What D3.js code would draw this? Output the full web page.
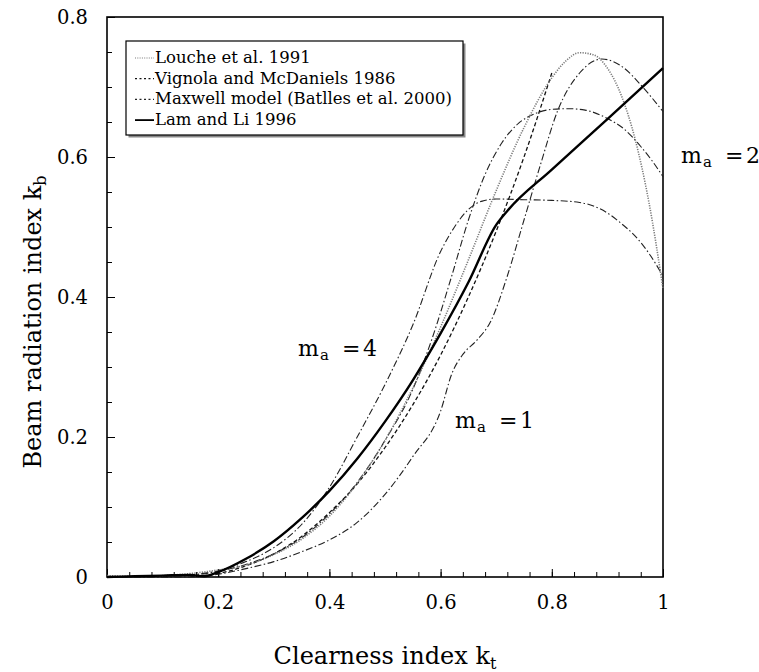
<!DOCTYPE html>
<html>
<head>
<meta charset="utf-8">
<script src="https://cdn.jsdelivr.net/npm/d3@7/dist/d3.min.js"></script>
<style>
  html, body { margin: 0; padding: 0; background: #fff; }
  svg text { font-family: "DejaVu Serif", serif; fill: #000; }
</style>
</head>
<body>
<svg id="chart" width="759" height="672"></svg>
<script>
// ---- data: clearness index kt vs beam radiation index kb ----
const ktLouche = [0, 0.05, 0.1, 0.15, 0.2, 0.25, 0.3, 0.35, 0.4, 0.45, 0.5, 0.55, 0.6, 0.65, 0.7, 0.75, 0.8, 0.825, 0.85, 0.875, 0.9, 0.925, 0.95, 0.975, 1.0];
const kbLouche = [0.002, 0.001, 0.002, 0.005, 0.010, 0.017, 0.032, 0.054, 0.087, 0.134, 0.195, 0.270, 0.357, 0.453, 0.552, 0.642, 0.713, 0.737, 0.749, 0.746, 0.727, 0.688, 0.625, 0.534, 0.412];

const ktVignola = [0.15, 0.2, 0.25, 0.3, 0.35, 0.4, 0.45, 0.5, 0.55, 0.6, 0.65, 0.7, 0.75, 0.8];
const kbVignola = [0.001, 0.005, 0.016, 0.033, 0.058, 0.092, 0.133, 0.185, 0.246, 0.317, 0.400, 0.494, 0.600, 0.720];

const ktMax4 = [0, 0.1, 0.15, 0.2, 0.25, 0.3, 0.35, 0.4, 0.45, 0.5, 0.55, 0.6, 0.625, 0.65, 0.675, 0.7, 0.75, 0.8, 0.85, 0.875, 0.9, 0.925, 0.95, 0.975, 1.0];
const kbMax4 = [0, 0.0, 0.003, 0.009, 0.022, 0.042, 0.075, 0.128, 0.200, 0.275, 0.360, 0.465, 0.500, 0.525, 0.537, 0.540, 0.539, 0.538, 0.535, 0.530, 0.520, 0.505, 0.487, 0.462, 0.430];

const ktMax2 = [0, 0.1, 0.15, 0.2, 0.25, 0.3, 0.35, 0.4, 0.45, 0.5, 0.55, 0.584, 0.62, 0.65, 0.68, 0.71, 0.74, 0.77, 0.8, 0.83, 0.86, 0.9, 0.93, 0.96, 0.98, 1.0];
const kbMax2 = [0, 0.0, 0.002, 0.008, 0.018, 0.033, 0.056, 0.090, 0.135, 0.195, 0.268, 0.339, 0.430, 0.510, 0.575, 0.620, 0.648, 0.662, 0.668, 0.669, 0.667, 0.655, 0.640, 0.615, 0.595, 0.572];

const ktMax1 = [0, 0.1, 0.15, 0.2, 0.25, 0.3, 0.35, 0.4, 0.45, 0.5, 0.55, 0.6, 0.62, 0.64, 0.665, 0.69, 0.72, 0.75, 0.78, 0.81, 0.85, 0.89, 0.93, 0.96, 1.0];
const kbMax1 = [0, 0.0, 0.0, 0.004, 0.012, 0.022, 0.036, 0.053, 0.078, 0.118, 0.172, 0.237, 0.290, 0.318, 0.338, 0.365, 0.430, 0.510, 0.590, 0.665, 0.720, 0.740, 0.727, 0.703, 0.665];

const ktLam = [0, 0.05, 0.1, 0.15, 0.175, 0.2, 0.25, 0.3, 0.35, 0.4, 0.45, 0.5, 0.55, 0.6, 0.65, 0.7, 0.72, 0.8, 0.9, 1.0];
const kbLam = [0, 0.001, 0.002, 0.003, 0.001, 0.007, 0.026, 0.051, 0.084, 0.123, 0.169, 0.222, 0.281, 0.348, 0.421, 0.503, 0.523, 0.582, 0.654, 0.727];

const xTicksMajor = [0, 0.2, 0.4, 0.6, 0.8, 1];
const xTickLabels = ["0", "0.2", "0.4", "0.6", "0.8", "1"];
const yTicksMajor = [0, 0.2, 0.4, 0.6, 0.8];
const yTickLabels = ["0", "0.2", "0.4", "0.6", "0.8"];

const legendNames = ["Louche et al. 1991", "Vignola and McDaniels 1986", "Maxwell model (Batlles et al. 2000)", "Lam and Li 1996"];

// ---- layout ----
const svg = d3.select("#chart");
const plotLeft = 107, plotRight = 663, plotTop = 17, plotBottom = 577;
const serif = "DejaVu Serif";

const x = d3.scaleLinear().domain([0, 1]).range([plotLeft, plotRight]);
const y = d3.scaleLinear().domain([0, 0.8]).range([plotBottom, plotTop]);

// line styles per series
const styles = {
  louche:  { color: "#7a7a7a", width: 1.6, dash: "1.2,1.3" },
  vignola: { color: "#111",    width: 1.3, dash: "4,2.5" },
  maxwell: { color: "#222",    width: 1.1, dash: "7,2.5,1.5,2.5" },
  lam:     { color: "#000",    width: 2.4, dash: null }
};

// ---- axes: inward ticks ----
const minorX = d3.range(0, 1.0001, 0.04);
const minorY = d3.range(0, 0.8001, 0.05);

svg.append("g")
  .attr("transform", `translate(0,${plotBottom})`)
  .call(d3.axisBottom(x).tickValues(minorX).tickSizeInner(-5).tickSizeOuter(0).tickFormat(""))
  .call(g => g.select(".domain").remove())
  .call(g => g.selectAll("line").attr("stroke", "#000").attr("stroke-width", 1));

svg.append("g")
  .attr("transform", `translate(0,${plotBottom})`)
  .call(d3.axisBottom(x).tickValues(xTicksMajor).tickSizeInner(-8).tickSizeOuter(0).tickPadding(18)
    .tickFormat((d, i) => xTickLabels[i]))
  .attr("font-family", serif)
  .call(g => g.select(".domain").remove())
  .call(g => g.selectAll("line").attr("stroke", "#000").attr("stroke-width", 1))
  .call(g => g.selectAll("text").attr("font-size", 19.5));

svg.append("g")
  .attr("transform", `translate(${plotLeft},0)`)
  .call(d3.axisLeft(y).tickValues(minorY).tickSizeInner(-5).tickSizeOuter(0).tickFormat(""))
  .call(g => g.select(".domain").remove())
  .call(g => g.selectAll("line").attr("stroke", "#000").attr("stroke-width", 1));

svg.append("g")
  .attr("transform", `translate(${plotLeft},0)`)
  .call(d3.axisLeft(y).tickValues(yTicksMajor).tickSizeInner(-8).tickSizeOuter(0).tickPadding(19)
    .tickFormat((d, i) => yTickLabels[i]))
  .attr("font-family", serif)
  .call(g => g.select(".domain").remove())
  .call(g => g.selectAll("line").attr("stroke", "#000").attr("stroke-width", 1))
  .call(g => g.selectAll("text").attr("font-size", 19.5));

// frame
svg.append("rect")
  .attr("x", plotLeft).attr("y", plotTop)
  .attr("width", plotRight - plotLeft).attr("height", plotBottom - plotTop)
  .attr("fill", "none").attr("stroke", "#000").attr("stroke-width", 1.6);

// ---- curves ----
const line = d3.line()
  .x(d => x(d[0]))
  .y(d => y(d[1]))
  .curve(d3.curveMonotoneX);

const series = [
  { kt: ktMax1, kb: kbMax1, s: styles.maxwell },
  { kt: ktMax2, kb: kbMax2, s: styles.maxwell },
  { kt: ktMax4, kb: kbMax4, s: styles.maxwell },
  { kt: ktVignola, kb: kbVignola, s: styles.vignola },
  { kt: ktLouche, kb: kbLouche, s: styles.louche },
  { kt: ktLam, kb: kbLam, s: styles.lam }
];

const plot = svg.append("g");
series.forEach(sr => {
  const pts = sr.kt.map((k, i) => [k, sr.kb[i]]);
  plot.append("path")
    .attr("d", line(pts))
    .attr("fill", "none")
    .attr("stroke", sr.s.color)
    .attr("stroke-width", sr.s.width)
    .attr("stroke-dasharray", sr.s.dash)
    .attr("stroke-linejoin", "round");
});

// ---- legend ----
const lg = { x: 126, y: 41, w: 337, h: 94 };
svg.append("rect")
  .attr("x", lg.x + 2.5).attr("y", lg.y + 2.5).attr("width", lg.w).attr("height", lg.h)
  .attr("fill", "#888");
svg.append("rect")
  .attr("x", lg.x).attr("y", lg.y).attr("width", lg.w).attr("height", lg.h)
  .attr("fill", "#fff").attr("stroke", "#000").attr("stroke-width", 1.2);

const legendStyles = [styles.louche, styles.vignola, styles.maxwell, styles.lam];
legendNames.forEach((name, i) => {
  const yy = 57 + i * 20.7;
  const st = legendStyles[i];
  svg.append("line")
    .attr("x1", 135).attr("x2", 154)
    .attr("y1", yy + 1).attr("y2", yy + 1)
    .attr("stroke", st.color)
    .attr("stroke-width", i === 3 ? 1.8 : 1.2)
    .attr("stroke-dasharray", i === 0 ? "1,1.3" : (i === 3 ? null : "2,2.5"));
  svg.append("text")
    .attr("x", 155).attr("y", yy + 6)
    .attr("font-size", 16.5)
    .text(name);
});

// ---- axis titles ----
const xt = svg.append("text")
  .attr("x", 385).attr("y", 664)
  .attr("text-anchor", "middle")
  .attr("font-size", 24);
xt.append("tspan").text("Clearness index k");
xt.append("tspan").attr("font-size", 16).attr("dy", 5).text("t");

const yt = svg.append("text")
  .attr("transform", "translate(41,322) rotate(-90)")
  .attr("text-anchor", "middle")
  .attr("font-size", 24);
yt.append("tspan").text("Beam radiation index k");
yt.append("tspan").attr("font-size", 16).attr("dy", 5).text("b");

// ---- air-mass annotations ----
function massLabel(px, py, value) {
  const t = svg.append("text")
    .attr("y", py)
    .attr("font-size", 22);
  t.append("tspan").attr("x", px).text("m");
  t.append("tspan").attr("x", px + 22).attr("font-size", 15).attr("dy", 4).text("a");
  t.append("tspan").attr("x", px + 44).attr("dy", -4).text("=");
  t.append("tspan").attr("x", px + 65).text(value);
}
massLabel(298, 356, "4");
massLabel(455, 428, "1");
massLabel(681, 163, "2");
</script>
</body>
</html>
